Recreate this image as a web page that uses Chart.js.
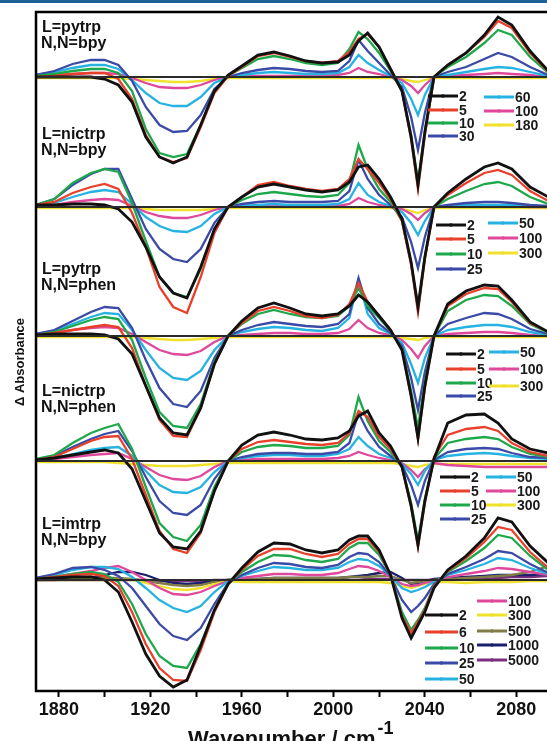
<!DOCTYPE html>
<html>
<head>
<meta charset="utf-8">
<script src="https://cdn.jsdelivr.net/npm/chart.js@4.4.1/dist/chart.umd.min.js"></script>
<style>
html,body{margin:0;padding:0;background:#fff;overflow:hidden}
#wrap{position:absolute;left:0;top:0;width:547px;height:741px}
#bar{position:absolute;left:0;top:0;width:547px;height:3px;background:#1f5f9a}
</style>
</head>
<body>
<div id="wrap"><canvas id="chart" width="547" height="741"></canvas></div>
<div id="bar"></div>
<script>
// wavenumber grid (cm-1) shared by every trace
const wavenumber = [1870,1878,1886,1894,1900,1906,1912,1918,1924,1930,1936,1942,1948,1954,1960,1967,1974,1981,1988,1995,2002,2007,2011,2015,2020,2025,2030,2034,2037,2040,2044,2050,2058,2066,2072,2078,2086,2094];

// ΔA traces (arb. units), one per delay (ps)
// L=pytrp, N,N=bpy
const pyBpyDelays = ['2','5','10','30','60','100','180'];
const pyBpy2   = [0,0,0,0,-2,-8,-25,-60,-80,-86,-80,-48,-14,2,11,22,25,21,16,14,15,22,36,44,30,8,-14,-60,-108,-55,0,12,24,42,60,52,26,6];
const pyBpy5   = [0,1,3,4,4,-2,-22,-58,-80,-85,-81,-50,-16,1,10,21,24,20,16,14,16,25,38,43,30,8,-14,-62,-112,-58,0,12,24,40,56,49,24,5];
const pyBpy10  = [1,3,6,8,8,4,-14,-52,-76,-80,-77,-48,-14,1,9,18,21,18,14,12,14,28,45,38,24,6,-14,-58,-105,-55,0,10,20,34,47,42,20,4];
const pyBpy30  = [2,6,13,17,17,12,-4,-30,-48,-55,-54,-38,-12,0,4,7,9,8,6,5,6,16,37,26,14,2,-10,-40,-73,-36,0,5,10,18,24,20,10,2];
const pyBpy60  = [2,5,9,12,12,8,-3,-16,-26,-29,-29,-20,-6,0,2,4,5,4,3,3,4,10,22,14,7,1,-6,-22,-38,-18,0,2,5,8,10,9,5,1];
const pyBpy100 = [1,2,3,4,4,3,-1,-6,-10,-11,-11,-8,-3,0,1,1,1,1,1,1,2,4,9,5,3,0,-3,-9,-16,-8,0,1,2,3,4,3,2,0];
const pyBpy180 = [-1,-1,-1,-1,-1,-1,-2,-3,-4,-5,-5,-4,-2,-1,-1,-1,-1,-1,-1,-1,-1,-1,-1,-1,-1,-1,-2,-4,-5,-3,-1,-1,-1,-1,-1,-1,-1,-1];

// L=nictrp, N,N=bpy
const nicBpyDelays = ['2','5','10','25','50','100','300'];
const nicBpy2   = [2,2,3,3,2,-2,-15,-40,-70,-86,-91,-60,-22,0,10,20,23,20,17,15,17,25,40,42,28,10,-12,-55,-100,-50,0,14,28,40,44,38,20,10];
const nicBpy5   = [2,5,14,20,23,18,-6,-40,-80,-100,-106,-70,-26,0,10,22,25,21,18,16,18,28,48,38,24,8,-14,-58,-105,-52,0,12,24,34,37,32,16,6];
const nicBpy10  = [2,8,24,34,38,35,4,-34,-70,-86,-90,-62,-22,0,7,13,15,13,11,10,12,24,62,38,18,5,-14,-56,-101,-50,0,8,16,23,25,21,10,3];
const nicBpy25  = [2,8,22,33,38,38,8,-22,-42,-52,-55,-42,-16,0,3,5,6,5,5,5,6,16,47,28,12,2,-10,-35,-61,-30,0,2,4,5,5,4,2,1];
const nicBpy50  = [1,4,10,15,17,15,3,-10,-19,-24,-25,-19,-7,0,1,2,3,2,2,2,3,8,24,12,5,1,-5,-16,-28,-14,0,1,2,2,2,2,1,0];
const nicBpy100 = [1,2,5,7,8,7,1,-5,-9,-11,-11,-8,-3,0,1,1,1,1,1,1,1,3,9,5,2,0,-2,-7,-13,-6,0,1,1,1,1,1,0,0];
const nicBpy300 = [-1,-1,-1,-1,-1,-1,-1,-2,-3,-3,-3,-3,-2,-1,-1,-1,-1,-1,-1,-1,-1,-1,-1,-1,-1,-1,-2,-4,-6,-3,-1,-1,-1,-1,-1,-1,-1,-1];

// L=pytrp, N,N=phen
const pyPhenDelays = ['2','5','10','25','50','100','300'];
const pyPhen2   = [1,2,2,2,1,-3,-18,-50,-82,-97,-99,-72,-28,0,15,28,33,28,22,20,22,30,41,34,20,6,-14,-60,-102,-50,0,32,45,51,50,36,14,4];
const pyPhen5   = [1,3,6,9,11,9,-12,-50,-84,-100,-101,-72,-28,0,13,25,29,25,20,18,21,32,53,34,20,6,-14,-60,-103,-52,0,30,42,48,47,34,13,4];
const pyPhen10  = [1,4,10,16,19,17,-4,-42,-76,-90,-92,-68,-26,0,12,22,26,22,19,18,20,30,48,30,18,5,-13,-55,-92,-46,0,25,36,41,40,30,12,3];
const pyPhen25  = [2,6,15,24,29,28,8,-24,-52,-68,-71,-55,-22,0,6,11,14,12,10,9,12,22,58,28,12,3,-10,-42,-74,-36,0,12,18,23,22,17,7,2];
const pyPhen50  = [2,5,12,19,23,22,6,-14,-32,-42,-44,-35,-14,0,4,7,9,8,6,5,8,18,56,22,8,2,-7,-28,-47,-22,0,6,9,11,11,9,4,1];
const pyPhen100 = [1,3,6,8,9,8,2,-6,-14,-18,-19,-15,-6,0,1,2,3,3,2,2,3,7,16,8,3,1,-4,-13,-22,-10,0,2,3,4,4,3,1,0];
const pyPhen300 = [-1,-1,-1,-1,-1,-1,-1,-2,-3,-4,-4,-3,-2,-1,-1,-1,-1,-1,-1,-1,-1,-1,-1,-1,-1,-1,-2,-3,-4,-2,-1,-1,-1,-1,-1,-1,-1,-1];

// L=nictrp, N,N=phen
const nicPhenDelays = ['2','5','10','25','50','100','300'];
const nicPhen2   = [1,3,6,9,11,8,-8,-40,-72,-86,-88,-70,-30,0,16,26,29,26,22,21,23,30,45,50,28,15,-6,-45,-84,-40,2,38,46,47,38,22,12,8];
const nicPhen5   = [1,4,12,20,24,25,2,-34,-70,-88,-92,-72,-30,0,12,19,21,19,17,16,18,28,50,44,24,12,-6,-46,-86,-42,4,26,32,34,30,18,9,5];
const nicPhen10  = [2,6,18,28,33,37,12,-26,-62,-76,-80,-64,-26,0,9,14,16,15,13,13,15,26,64,40,20,9,-6,-42,-80,-38,2,18,22,24,22,14,7,4];
const nicPhen25  = [1,5,14,22,27,30,10,-16,-40,-52,-54,-44,-18,0,4,7,8,8,7,7,9,18,48,30,14,5,-4,-24,-44,-20,1,9,12,13,12,8,4,3];
const nicPhen50  = [1,3,7,11,13,14,5,-10,-24,-31,-32,-26,-11,0,3,5,6,6,5,5,7,12,24,15,7,3,-3,-13,-24,-10,1,5,7,8,7,5,3,2];
const nicPhen100 = [1,2,4,6,7,8,2,-6,-14,-18,-19,-15,-6,0,1,2,2,2,2,2,3,5,9,6,3,1,-2,-9,-16,-8,-2,-4,-5,-6,-6,-6,-6,-6];
const nicPhen300 = [-1,-1,-1,-1,-1,-2,-3,-4,-5,-5,-5,-4,-3,-2,-2,-2,-2,-2,-2,-2,-2,-2,-2,-2,-2,-2,-3,-5,-6,-4,-3,-3,-3,-3,-3,-3,-3,-3];

// L=imtrp, N,N=bpy
const imBpyDelays = ['2','6','10','25','50','100','300','500','1000','5000'];
const imBpy2    = [1,2,3,3,0,-12,-42,-74,-96,-107,-100,-66,-30,-4,12,28,37,36,30,27,30,40,44,44,30,5,-38,-58,-45,-32,-8,10,24,42,62,58,34,17];
const imBpy6    = [1,3,5,6,4,-6,-32,-64,-88,-100,-101,-70,-32,-4,10,24,31,31,26,23,26,36,41,41,28,5,-36,-53,-42,-30,-6,9,22,38,53,50,28,12];
const imBpy10   = [1,3,6,8,6,-2,-24,-54,-76,-86,-88,-64,-30,-4,8,18,25,24,20,18,21,32,37,37,25,5,-32,-50,-40,-28,-6,8,19,32,45,42,24,10];
const imBpy25   = [2,6,12,13,10,4,-8,-26,-44,-56,-60,-48,-24,-3,5,12,17,16,13,12,15,23,27,26,18,4,-20,-32,-26,-18,-4,6,13,21,29,27,16,7];
const imBpy50   = [2,5,10,13,13,11,3,-8,-20,-28,-32,-26,-12,-1,4,9,13,12,10,10,12,18,21,20,14,4,-8,-12,-10,-7,-2,5,10,16,22,20,12,6];
const imBpy100  = [1,3,6,9,12,14,8,0,-8,-14,-15,-12,-6,-1,2,4,6,6,5,5,7,11,14,13,9,3,-4,-6,-5,-3,-1,3,6,9,12,11,8,5];
const imBpy300  = [0,0,0,0,0,0,0,-3,-6,-9,-10,-8,-4,-1,-2,-2,-2,-2,-2,-2,-2,-2,-2,-2,-2,-3,-6,-8,-6,-4,-2,-2,-3,-2,-2,-2,-1,-1];
const imBpy500  = [0,1,1,2,2,2,1,-1,-3,-5,-6,-5,-2,0,1,1,2,2,2,2,2,3,3,3,4,4,0,-3,-2,-1,0,1,2,3,4,5,8,14];
const imBpy1000 = [0,0,1,2,5,8,8,5,0,-3,-4,-3,-1,0,1,1,2,2,2,2,2,3,4,5,7,8,2,-4,-3,-1,1,2,3,4,5,5,5,6];
const imBpy5000 = [0,0,0,0,0,0,0,0,-1,-1,-1,-1,0,0,0,0,0,0,0,0,0,0,0,1,1,1,0,0,0,0,0,0,1,1,2,3,3,4];

const panelTraces = [
  [pyBpy2, pyBpy5, pyBpy10, pyBpy30, pyBpy60, pyBpy100, pyBpy180],
  [nicBpy2, nicBpy5, nicBpy10, nicBpy25, nicBpy50, nicBpy100, nicBpy300],
  [pyPhen2, pyPhen5, pyPhen10, pyPhen25, pyPhen50, pyPhen100, pyPhen300],
  [nicPhen2, nicPhen5, nicPhen10, nicPhen25, nicPhen50, nicPhen100, nicPhen300],
  [imBpy2, imBpy6, imBpy10, imBpy25, imBpy50, imBpy100, imBpy300, imBpy500, imBpy1000, imBpy5000]
];
const panelDelays = [pyBpyDelays, nicBpyDelays, pyPhenDelays, nicPhenDelays, imBpyDelays];
const panelLigand = ['L=pytrp', 'L=nictrp', 'L=pytrp', 'L=nictrp', 'L=imtrp'];
const panelDiimine = ['N,N=bpy', 'N,N=bpy', 'N,N=phen', 'N,N=phen', 'N,N=bpy'];

// vertical stacking offset of each panel's zero line
const panelOffsets = [614, 484, 355, 230, 111];

const traceColors = ['#111111', '#e8412b', '#1ea84c', '#3b4aa6', '#27b3e2', '#e0489b', '#efe12c', '#7f7c47', '#1c1f6c', '#7c2f7f'];

// layout of the legends and captions (pixels)
const legendCol1X = [428, 436, 446, 440, 425];
const legendCol2X = [484, 488, 489, 486, 477];
const legendRows1 = [[96,110,123,136],[225,239,254,269],[354,369,383,396],[477,491,505,519],[615,632,648,663,679]];
const legendRows2 = [[97,111,125],[223,238,253],[352,369,386],[477,491,505],[601,615,631,645,660]];
const captionBaselines = [[32,48],[139,155],[274,290],[396,412],[529,545]];

const FONT = '"Liberation Sans", Arial, Helvetica, sans-serif';

const datasets = [];
panelTraces.forEach((traces, p) => {
  traces.forEach((vals, i) => {
    datasets.push({
      label: panelDelays[p][i],
      data: vals.map((v, k) => ({ x: wavenumber[k], y: panelOffsets[p] + v })),
      borderColor: traceColors[i],
      backgroundColor: traceColors[i],
      borderWidth: i === 0 ? 2.8 : 2.3,
      pointRadius: 0,
      tension: 0,
      fill: false
    });
  });
});

const decor = {
  id: 'decor',
  afterDatasetsDraw(chart) {
    const { ctx, chartArea: a, scales: { y } } = chart;
    ctx.save();
    ctx.beginPath();
    ctx.rect(a.left, a.top, a.right - a.left, a.bottom - a.top);
    ctx.clip();
    ctx.strokeStyle = '#2b2b2b';
    ctx.lineWidth = 2.2;
    panelOffsets.forEach(o => {
      const py = y.getPixelForValue(o);
      ctx.beginPath(); ctx.moveTo(a.left, py); ctx.lineTo(a.right, py); ctx.stroke();
    });
    ctx.restore();
  },
  afterDraw(chart) {
    const { ctx, chartArea: a } = chart;
    ctx.save();
    // frame (left, top, bottom)
    ctx.strokeStyle = '#000';
    ctx.lineWidth = 2.5;
    ctx.beginPath();
    ctx.moveTo(a.right + 2, a.top); ctx.lineTo(a.left, a.top); ctx.lineTo(a.left, a.bottom); ctx.lineTo(a.right + 2, a.bottom);
    ctx.stroke();

    // panel captions
    ctx.fillStyle = '#111';
    ctx.font = 'bold 16px ' + FONT;
    ctx.textAlign = 'left';
    ctx.textBaseline = 'alphabetic';
    panelLigand.forEach((t, p) => {
      ctx.fillText(t, 42, captionBaselines[p][0]);
      ctx.fillText(panelDiimine[p], 41, captionBaselines[p][1]);
    });

    // legends
    ctx.font = 'bold 14px ' + FONT;
    ctx.textBaseline = 'middle';
    panelDelays.forEach((delays, p) => {
      const n1 = legendRows1[p].length;
      delays.forEach((d, i) => {
        const col2 = i >= n1;
        const x0 = col2 ? legendCol2X[p] : legendCol1X[p];
        const yy = col2 ? legendRows2[p][i - n1] : legendRows1[p][i];
        const len = p === 4 && !col2 ? 33 : 30;
        ctx.strokeStyle = traceColors[i];
        ctx.lineWidth = 3;
        ctx.beginPath(); ctx.moveTo(x0, yy); ctx.lineTo(x0 + len, yy); ctx.stroke();
        ctx.fillStyle = traceColors[i];
        ctx.beginPath(); ctx.arc(x0 + len / 2, yy, 1.8, 0, Math.PI * 2); ctx.fill();
        ctx.fillStyle = '#1a1a1a';
        ctx.fillText(d, x0 + len + 1, yy + 1);
      });
    });

    // axis titles
    ctx.fillStyle = '#111';
    ctx.font = 'bold 22px ' + FONT;
    ctx.textBaseline = 'alphabetic';
    const main = 'Wavenumber / cm';
    ctx.fillText(main, 188, 746);
    const w = ctx.measureText(main).width;
    ctx.font = 'bold 18px ' + FONT;
    ctx.fillText('-1', 188 + w + 2, 734);

    ctx.translate(20, 362);
    ctx.rotate(-Math.PI / 2);
    ctx.font = 'bold 13px ' + FONT;
    ctx.textAlign = 'center';
    ctx.textBaseline = 'middle';
    ctx.fillText('\u0394 Absorbance', 0, 0);
    ctx.restore();
  }
};

new Chart(document.getElementById('chart'), {
  type: 'line',
  data: { datasets },
  options: {
    responsive: false,
    animation: false,
    events: [],
    layout: { padding: { top: 12, right: 0, bottom: 0, left: 0 } },
    plugins: { legend: { display: false }, tooltip: { enabled: false } },
    scales: {
      x: {
        type: 'linear',
        min: 1870,
        max: 2093.4,
        border: { display: false },
        grid: { drawOnChartArea: false, drawTicks: true, tickLength: 6, tickWidth: 2, tickColor: '#000' },
        ticks: {
          stepSize: 20,
          includeBounds: false,
          autoSkip: false,
          maxRotation: 0,
          padding: 2,
          color: '#111',
          font: { family: FONT, size: 18, weight: 'bold' },
          callback: v => (v % 40 === 0 ? String(v) : '')
        },
        afterFit: s => { s.height = 50; }
      },
      y: {
        type: 'linear',
        min: 0,
        max: 679,
        border: { display: false },
        grid: { display: false },
        ticks: { display: false },
        afterFit: s => { s.width = 36; }
      }
    }
  },
  plugins: [decor]
});
</script>
</body>
</html>
